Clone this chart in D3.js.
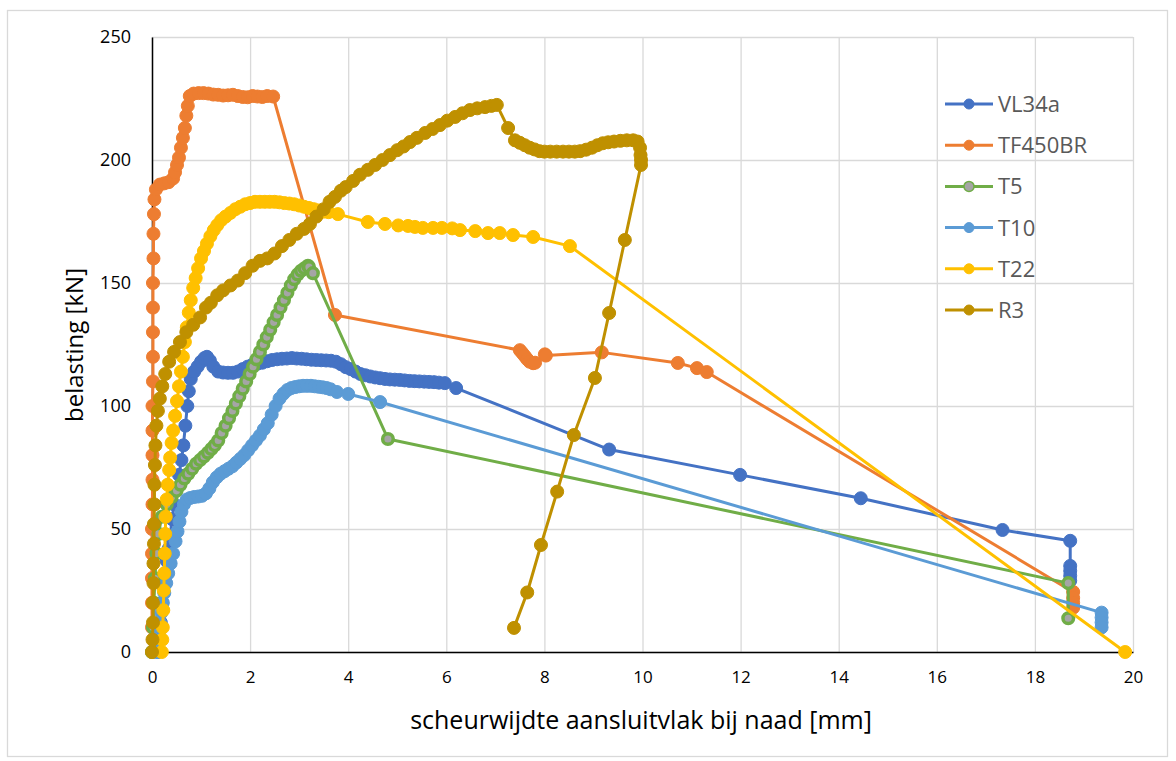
<!DOCTYPE html>
<html><head><meta charset="utf-8">
<script src="https://cdn.jsdelivr.net/npm/d3@7"></script>
<style>body{margin:0;background:#fff} svg{display:block}</style>
</head><body><svg id="c" width="1176" height="761"></svg>
<script>
const seriesNames = ["VL34a", "TF450BR", "T5", "T10", "T22", "R3"];
const seriesColors = ["#4472C4", "#ED7D31", "#70AD47", "#5B9BD5", "#FFC000", "#BF9000"];
const markerFills = ["#4472C4", "#ED7D31", "#A5A5A5", "#5B9BD5", "#FFC000", "#BF9000"];
const xTicks = [0, 2, 4, 6, 8, 10, 12, 14, 16, 18, 20];
const yTicks = [0, 50, 100, 150, 200, 250];
const xTitle = "scheurwijdte aansluitvlak bij naad [mm]";
const yTitle = "belasting [kN]";

const vl34a = [[0.12,0],[0.15,5],[0.18,12],[0.21,20],[0.24,27],[0.27,32],[0.3,37],[0.34,42],[0.37,47],[0.41,54],[0.45,60],[0.5,66],[0.55,72],[0.6,78],[0.64,84],[0.68,92],[0.72,100],[0.75,106],[0.79,111],[0.86,114],[0.93,116],[1.0,118],[1.07,119.5],[1.12,120],[1.18,118.5],[1.25,116],[1.35,114],[1.45,113.6],[1.55,113.5],[1.65,113.5],[1.75,114],[1.85,115],[1.95,116],[2.05,116.8],[2.15,117.2],[2.25,117.6],[2.35,118.2],[2.45,118.7],[2.55,119],[2.65,119.2],[2.75,119.3],[2.85,119.5],[2.95,119.3],[3.05,119.2],[3.15,119],[3.25,118.8],[3.35,118.7],[3.45,118.6],[3.55,118.5],[3.65,118.4],[3.75,118],[3.85,117],[3.95,115.8],[4.05,115],[4.15,114],[4.25,113],[4.35,112.5],[4.45,112],[4.55,111.6],[4.65,111.3],[4.75,111],[4.85,110.8],[4.95,110.7],[5.05,110.6],[5.15,110.4],[5.25,110.2],[5.35,110.1],[5.45,110],[5.55,109.9],[5.65,109.8],[5.75,109.7],[5.85,109.5],[5.97,109.3],[6.2,107.3],[9.32,82.3],[11.99,72],[14.45,62.5],[17.34,49.6],[18.72,45.2],[18.72,35],[18.72,33],[18.72,31],[18.72,29]];

const tf450br = [[0,0],[0,10],[0,20],[0,30],[0,40],[0,50],[0.01,60],[0.01,70],[0.01,80],[0.01,90],[0.01,100],[0.02,110],[0.02,120],[0.02,130],[0.02,140],[0.02,150],[0.03,160],[0.03,170],[0.04,178],[0.05,184],[0.08,188],[0.16,190],[0.25,190.5],[0.34,191],[0.43,192.5],[0.47,195],[0.51,198],[0.55,201],[0.59,205],[0.63,209],[0.67,213],[0.7,218],[0.73,222],[0.77,226],[0.85,227],[0.95,227.2],[1.05,227.2],[1.15,227],[1.25,226.6],[1.35,226.5],[1.45,226.2],[1.55,226.3],[1.65,226.5],[1.75,226],[1.85,225.6],[1.95,225.5],[2.05,226],[2.15,225.8],[2.25,225.6],[2.35,226],[2.47,225.8],[3.73,137],[7.5,122.7],[7.55,121.5],[7.6,120.3],[7.65,119],[7.7,118],[7.77,117.4],[7.81,117.6],[8.01,121],[8.03,120.5],[9.17,121.8],[10.72,117.5],[11.11,115.4],[11.31,113.8],[18.78,24.4],[18.78,22],[18.78,20],[18.78,18]];

const t5 = [[0,0],[0.02,10],[0.04,20],[0.06,30],[0.09,40],[0.13,48],[0.2,55],[0.3,60],[0.4,63],[0.5,65.5],[0.58,68],[0.66,70.5],[0.74,72.5],[0.82,74.5],[0.9,76.5],[0.98,78],[1.06,79.5],[1.14,81],[1.21,82.5],[1.28,84],[1.35,86],[1.42,89],[1.5,92],[1.57,95],[1.64,98],[1.71,101],[1.78,104],[1.85,107],[1.92,110],[1.99,113],[2.06,116],[2.13,119],[2.2,122],[2.27,125],[2.34,128],[2.41,131],[2.48,134],[2.55,137],[2.62,140],[2.69,143],[2.76,146],[2.83,149],[2.9,151.5],[2.97,153.5],[3.04,155],[3.11,156],[3.18,157],[3.2,156.5],[3.28,154],[4.81,86.6],[18.68,28],[18.68,13.7]];

const t10 = [[0.1,0],[0.12,4],[0.14,8],[0.16,12],[0.19,16],[0.22,20],[0.25,24],[0.29,28],[0.33,32],[0.38,36],[0.43,40],[0.48,45],[0.52,49],[0.56,53],[0.6,57],[0.65,60],[0.71,62],[0.78,62.6],[0.86,63],[0.94,63.2],[1.02,63.5],[1.1,64.5],[1.17,66.5],[1.24,69],[1.32,71],[1.4,72.5],[1.48,73.5],[1.56,74.5],[1.64,75.5],[1.72,77],[1.8,78.5],[1.88,80],[1.96,82],[2.04,84],[2.12,86],[2.2,88],[2.28,90.5],[2.36,93],[2.44,96.5],[2.52,100],[2.6,103],[2.68,105],[2.76,106.5],[2.84,107.3],[2.92,107.7],[3.0,108],[3.08,108.2],[3.16,108.2],[3.24,108.2],[3.32,108],[3.4,107.8],[3.48,107.6],[3.56,107.3],[3.64,106.8],[3.77,105.7],[4.0,104.9],[4.65,101.6],[19.36,16],[19.36,14],[19.36,12],[19.36,10]];

const t22 = [[0.2,0],[0.21,5],[0.22,10],[0.23,17],[0.24,25],[0.25,32],[0.26,40],[0.27,48],[0.28,55],[0.3,62],[0.32,68],[0.35,74],[0.37,79],[0.4,85],[0.43,90],[0.47,96],[0.51,102],[0.55,108],[0.59,114],[0.63,120],[0.67,126],[0.71,132],[0.75,138],[0.79,143],[0.84,148],[0.89,152],[0.94,156],[1.0,160],[1.06,163],[1.12,166],[1.19,169],[1.26,171.5],[1.33,173.5],[1.41,175.5],[1.5,177],[1.6,178.5],[1.7,180],[1.8,181],[1.9,182],[2.0,182.5],[2.1,183],[2.2,183],[2.3,183],[2.4,183],[2.5,183],[2.6,182.8],[2.7,182.5],[2.8,182.3],[2.9,182],[3.0,181.5],[3.1,181],[3.2,180.5],[3.3,180],[3.4,179.5],[3.5,179],[3.6,178.8],[3.79,178],[4.4,174.8],[4.75,174],[5.02,173.4],[5.22,173.2],[5.36,172.8],[5.52,172.4],[5.73,172.4],[5.91,172.4],[6.12,172.2],[6.28,171.5],[6.59,171.1],[6.85,170.3],[7.09,170.3],[7.36,169.5],[7.77,168.7],[8.52,165],[19.84,0]];

const r3 = [[0,0],[0.01,5],[0.02,12],[0.02,20],[0.03,28],[0.03,36],[0.04,44],[0.04,52],[0.05,60],[0.05,68],[0.06,76],[0.07,84],[0.09,92],[0.12,98],[0.16,103],[0.21,108],[0.27,113],[0.35,118],[0.45,122],[0.57,126],[0.7,130],[0.84,133],[0.98,136],[1.1,140],[1.2,142],[1.33,145],[1.45,147],[1.6,149],[1.75,151],[1.9,154],[2.05,157],[2.2,159],[2.35,160],[2.5,162],[2.65,165],[2.8,167.5],[2.95,170],[3.1,172],[3.22,174],[3.35,177],[3.5,180],[3.62,183],[3.73,185],[3.85,187.5],[3.95,189],[4.1,191.5],[4.24,194],[4.4,196],[4.55,198],[4.7,200],[4.85,202],[5.0,204],[5.13,205.5],[5.26,207.3],[5.4,209],[5.57,211],[5.72,212.6],[5.87,214.2],[6.02,216],[6.18,217.5],[6.33,219],[6.48,220.3],[6.63,221],[6.79,221.5],[6.92,222],[7.03,222.4],[7.26,213],[7.4,208],[7.5,207],[7.6,206],[7.7,205],[7.8,204.3],[7.9,203.6],[8.0,203.4],[8.12,203.4],[8.25,203.4],[8.38,203.4],[8.5,203.4],[8.62,203.4],[8.73,203.6],[8.85,204.2],[8.97,205],[9.08,206],[9.19,206.8],[9.3,207.2],[9.42,207.5],[9.55,207.8],[9.68,208],[9.81,208],[9.9,207.5],[9.95,205],[9.96,202],[9.97,200],[9.97,198],[9.64,167.5],[9.32,137.8],[9.03,111.4],[8.6,88.2],[8.26,65.2],[7.93,43.5],[7.65,24.2],[7.38,9.8]];

const seriesData = [vl34a, tf450br, t5, t10, t22, r3];

const svg = d3.select("#c");
const x = d3.scaleLinear().domain([0, 20]).range([152, 1133]);
const y = d3.scaleLinear().domain([0, 250]).range([652, 37]);

svg.append("rect").attr("x", 7.5).attr("y", 10.5).attr("width", 1160).attr("height", 746)
  .attr("fill", "#fff").attr("stroke", "#d9d9d9").attr("stroke-width", 1.3);

// gridlines
const gxg = svg.append("g").attr("transform", "translate(0,652)")
  .call(d3.axisBottom(x).tickValues(xTicks).tickSize(-(652 - 37)).tickFormat(""));
gxg.select(".domain").remove();
gxg.selectAll("line").attr("stroke", "#d9d9d9").attr("stroke-width", 1.3);
const gyg = svg.append("g").attr("transform", "translate(152,0)")
  .call(d3.axisLeft(y).tickValues(yTicks).tickSize(-(1133 - 152)).tickFormat(""));
gyg.select(".domain").remove();
gyg.selectAll("line").attr("stroke", "#d9d9d9").attr("stroke-width", 1.3);

// axes
const ax = svg.append("g").attr("transform", "translate(0,652)")
  .call(d3.axisBottom(x).tickValues(xTicks).tickSize(0).tickPadding(19).tickFormat(d3.format("d")));
ax.select(".domain").attr("stroke", "#000").attr("stroke-width", 1.5);
ax.selectAll("text").attr("font-family", "'Open Sans', sans-serif").attr("font-size", 17).attr("fill", "#000");
const ay = svg.append("g").attr("transform", "translate(152,0)")
  .call(d3.axisLeft(y).tickValues(yTicks).tickSize(0).tickPadding(21).tickFormat(d3.format("d")));
ay.select(".domain").attr("stroke", "#000").attr("stroke-width", 1.5);
ay.selectAll("text").attr("font-family", "'Open Sans', sans-serif").attr("font-size", 18).attr("fill", "#000");

svg.append("text").attr("x", 641).attr("y", 729).attr("text-anchor", "middle")
  .attr("font-family", "'Open Sans', sans-serif").attr("font-size", 25).attr("fill", "#000").text(xTitle);
svg.append("text").attr("transform", "translate(83,345) rotate(-90)").attr("text-anchor", "middle")
  .attr("font-family", "'Open Sans', sans-serif").attr("font-size", 24).attr("fill", "#000").text(yTitle);

// series
const line = d3.line().x(d => x(d[0])).y(d => y(d[1]));
const plot = svg.append("g");
seriesData.forEach((data, i) => {
  const g = plot.append("g");
  g.append("path").datum(data).attr("d", line).attr("fill", "none")
    .attr("stroke", seriesColors[i]).attr("stroke-width", 3).attr("stroke-linejoin", "round");
  g.selectAll("circle").data(data).join("circle")
    .attr("cx", d => x(d[0])).attr("cy", d => y(d[1])).attr("r", i === 2 ? 5.3 : 6.5)
    .attr("fill", markerFills[i]).attr("stroke", seriesColors[i]).attr("stroke-width", i === 2 ? 3.5 : 1);
});

// legend
const lg = svg.append("g");
seriesNames.forEach((name, i) => {
  const yy = 104 + i * 41.2;
  lg.append("line").attr("x1", 945).attr("x2", 993).attr("y1", yy).attr("y2", yy)
    .attr("stroke", seriesColors[i]).attr("stroke-width", 3);
  lg.append("circle").attr("cx", 969).attr("cy", yy).attr("r", 5)
    .attr("fill", markerFills[i]).attr("stroke", seriesColors[i]).attr("stroke-width", i === 2 ? 1.5 : 1);
  lg.append("text").attr("x", 998).attr("y", yy).attr("dy", "0.36em")
    .attr("font-family", "'Open Sans', sans-serif").attr("font-size", 22).attr("fill", "#595959").text(name);
});
</script>
</body></html>
